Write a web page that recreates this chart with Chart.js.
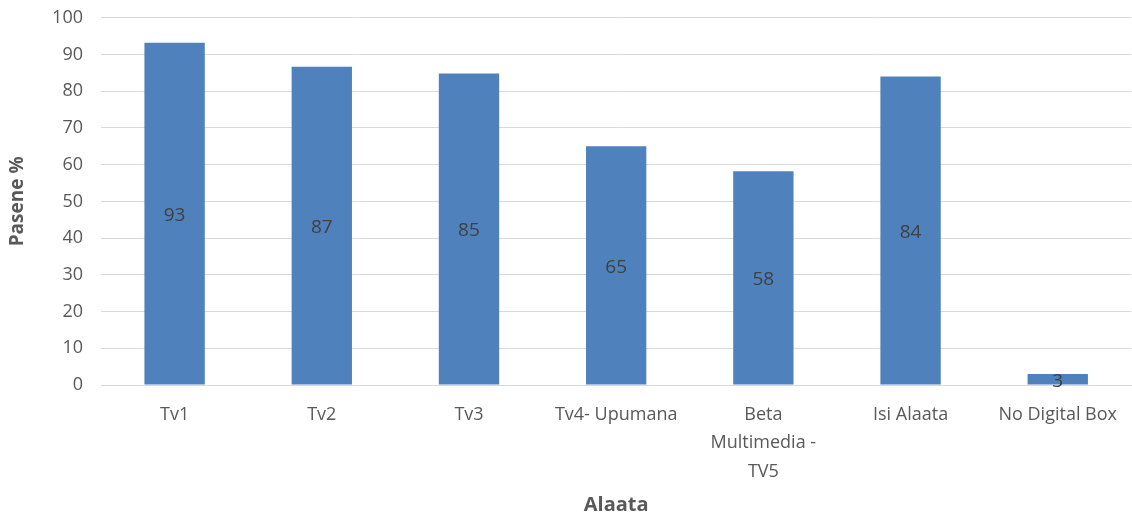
<!DOCTYPE html>
<html>
<head>
<meta charset="utf-8">
<script src="https://cdn.jsdelivr.net/npm/chart.js@4/dist/chart.umd.min.js"></script>
<style>
  body { margin: 0; background: #fff; }
  #wrap { width: 1132px; height: 517px; overflow: hidden; }
  #myChart { display: block; margin-top: -11px; }
</style>
</head>
<body>
<div id="wrap"><canvas id="myChart" width="1132" height="528"></canvas></div>
<script>
var alaata = ["Tv1", "Tv2", "Tv3", "Tv4- Upumana", ["Beta", "Multimedia -", "TV5"], "Isi Alaata", "No Digital Box"];
var pasene = [93.2, 86.7, 84.8, 65, 58.2, 84, 3];
var paseneLabels = ["93", "87", "85", "65", "58", "84", "3"];

var fontName = "'Open Sans', 'DejaVu Sans', sans-serif";

// data labels drawn in the middle of each bar
var barLabels = {
  id: 'barLabels',
  afterDatasetsDraw: function(chart) {
    var ctx = chart.ctx;
    var meta = chart.getDatasetMeta(0);
    ctx.save();
    ctx.font = "19px " + fontName;
    ctx.fillStyle = '#404040';
    ctx.textAlign = 'center';
    ctx.textBaseline = 'middle';
    meta.data.forEach(function(bar, i) {
      var mid = (bar.y + bar.base) / 2;
      ctx.fillText(paseneLabels[i], bar.x, mid + 2);
    });
    ctx.restore();
  }
};

var ctx = document.getElementById('myChart').getContext('2d');

var myChart = new Chart(ctx, {
  type: 'bar',
  data: {
    labels: alaata,
    datasets: [{
      label: 'Pasene %',
      data: pasene,
      backgroundColor: '#4f81bd',
      borderWidth: 0,
      categoryPercentage: 1,
      barPercentage: 0.41
    }]
  },
  options: {
    responsive: false,
    animation: false,
    layout: { padding: { top: 0, right: 0, left: 0, bottom: 0 } },
    plugins: {
      legend: { display: false },
      tooltip: { enabled: false }
    },
    scales: {
      x: {
        grid: { display: false, drawTicks: false },
        border: { color: '#d9d9d9', width: 1 },
        ticks: {
          color: '#595959',
          font: { family: fontName, size: 18, lineHeight: 1.6 },
          padding: 15,
          maxRotation: 0,
          autoSkip: false
        },
        title: {
          display: true,
          text: 'Alaata',
          color: '#595959',
          font: { family: fontName, size: 20, weight: 'bold' },
          padding: { top: 4, bottom: 0 }
        },
        afterFit: function(scale) { scale.height = 132; }
      },
      y: {
        min: 0,
        max: 100,
        ticks: {
          stepSize: 10,
          color: '#595959',
          font: { family: fontName, size: 18 },
          padding: 18
        },
        grid: { color: '#d9d9d9', drawTicks: false },
        border: { display: false },
        title: {
          display: true,
          text: 'Pasene %',
          color: '#595959',
          font: { family: fontName, size: 19, weight: 'bold' },
          padding: { top: 6, bottom: 8 }
        },
        afterFit: function(scale) { scale.width = 101; }
      }
    }
  },
  plugins: [barLabels]
});
</script>
</body>
</html>
